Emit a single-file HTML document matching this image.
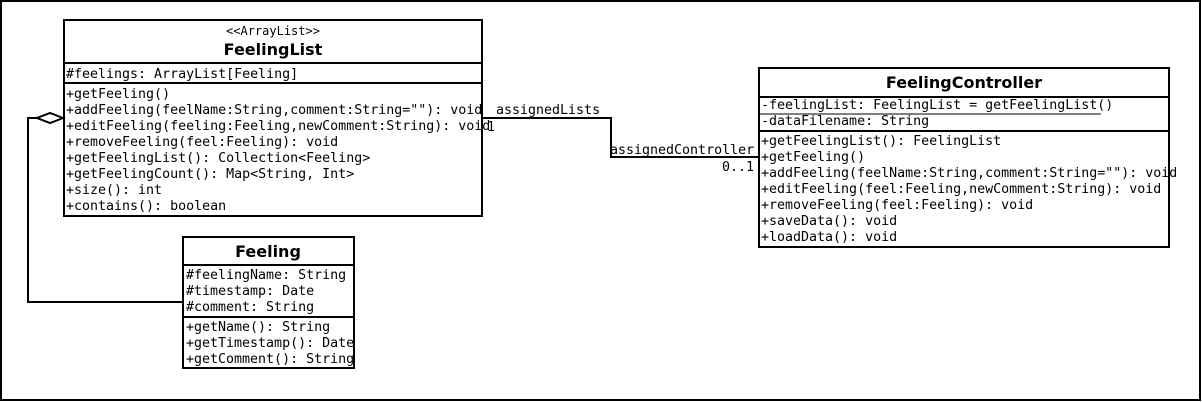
<!DOCTYPE html>
<html><head><meta charset="utf-8"><style>
html,body{margin:0;padding:0;background:#fff;}
svg{display:block}
.m{font-family:"DejaVu Sans Mono","Liberation Mono",monospace;font-size:13.3px;}
.b{font-family:"DejaVu Sans","Liberation Sans",sans-serif;font-size:16px;font-weight:bold;}
</style></head><body>
<svg width="1202" height="402" xmlns="http://www.w3.org/2000/svg">
<rect x="1" y="1" width="1199" height="399" fill="#fff" stroke="#000" stroke-width="2"/>
<g fill="none" stroke="#000" stroke-width="2">
<rect x="64" y="20" width="418" height="196"/>
<line x1="64" y1="63" x2="482" y2="63"/>
<line x1="64" y1="83" x2="482" y2="83"/>
<rect x="759" y="68" width="410" height="179"/>
<line x1="759" y1="97" x2="1169" y2="97"/>
<line x1="759" y1="131" x2="1169" y2="131"/>
<rect x="183" y="237" width="171" height="131"/>
<line x1="183" y1="265" x2="354" y2="265"/>
<line x1="183" y1="317" x2="354" y2="317"/>
<polyline points="482,118 611,118 611,157 759,157"/>
<polyline points="37,118 28,118 28,302 183,302"/>
</g>
<polygon points="63,118 50,113 37,118 50,123" fill="#fff" stroke="#000" stroke-width="2"/>
<line x1="760" y1="114" x2="1101" y2="114" stroke="#000" stroke-width="1"/>
<g class="m" fill="#000">
<text x="273" y="35" text-anchor="middle" font-size="12">&lt;&lt;ArrayList&gt;&gt;</text>
<text x="66" y="78">#feelings: ArrayList[Feeling]</text>
<text x="66" y="98">+getFeeling()</text>
<text x="66" y="114">+addFeeling(feelName:String,comment:String=""): void</text>
<text x="66" y="130">+editFeeling(feeling:Feeling,newComment:String): void</text>
<text x="66" y="146">+removeFeeling(feel:Feeling): void</text>
<text x="66" y="162">+getFeelingList(): Collection&lt;Feeling&gt;</text>
<text x="66" y="178">+getFeelingCount(): Map&lt;String, Int&gt;</text>
<text x="66" y="194">+size(): int</text>
<text x="66" y="210">+contains(): boolean</text>

<text x="496" y="114">assignedLists</text>
<text x="487" y="131">1</text>
<text x="610" y="154">assignedController</text>
<text x="722" y="171">0..1</text>

<text x="761" y="109">-feelingList: FeelingList = getFeelingList()</text>
<text x="761" y="125">-dataFilename: String</text>
<text x="761" y="145">+getFeelingList(): FeelingList</text>
<text x="761" y="161">+getFeeling()</text>
<text x="761" y="177">+addFeeling(feelName:String,comment:String=""): void</text>
<text x="761" y="193">+editFeeling(feel:Feeling,newComment:String): void</text>
<text x="761" y="209">+removeFeeling(feel:Feeling): void</text>
<text x="761" y="225">+saveData(): void</text>
<text x="761" y="241">+loadData(): void</text>

<text x="186" y="279">#feelingName: String</text>
<text x="186" y="295">#timestamp: Date</text>
<text x="186" y="311">#comment: String</text>
<text x="186" y="331">+getName(): String</text>
<text x="186" y="347">+getTimestamp(): Date</text>
<text x="186" y="363">+getComment(): String</text>
</g>
<g class="b" fill="#000" text-anchor="middle">
<text x="273" y="55">FeelingList</text>
<text x="964" y="88">FeelingController</text>
<text x="268" y="257">Feeling</text>
</g>
</svg>
</body></html>
